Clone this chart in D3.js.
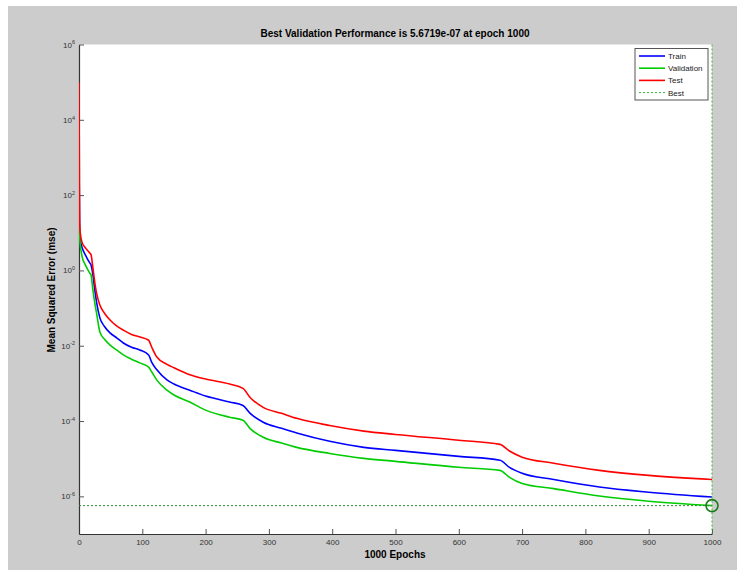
<!DOCTYPE html>
<head>
  <meta charset="utf-8">
  <script src="https://d3js.org/d3.v7.min.js"></script>
  <style>
    body { margin:0; background:#fff; }
    text { font-family: Arial, "Liberation Sans", sans-serif; }
  </style>
</head>
<body>
<script>
// values (mse per epoch)
var epochs   = [0, 1, 2, 5, 10, 17, 19, 22, 25, 28, 33, 40, 49, 60, 70, 83, 96, 110, 115, 123, 139, 150, 175, 200, 238, 259, 270, 291, 320, 344, 396, 450, 500, 600, 665, 680, 700, 750, 822, 900, 1000];
var trainMse = [1e3, 10, 6.5, 4.0, 2.6, 1.58, 1.4, 0.76, 0.30, 0.136, 0.055, 0.033, 0.022, 0.016, 0.0118, 0.0091, 0.0077, 0.0057, 0.0036, 0.0023, 0.00124, 0.00096, 0.00066, 0.00046, 0.00032, 0.00026, 0.000162, 9.3e-5, 6.4e-5, 4.8e-5, 2.9e-5, 2.0e-5, 1.66e-5, 1.15e-5, 9.1e-6, 5.9e-6, 4.1e-6, 2.8e-6, 1.77e-6, 1.29e-6, 9.6e-7];
var validMse = [30, 8, 4.8, 2.3, 1.4, 0.85, 0.76, 0.30, 0.136, 0.069, 0.023, 0.015, 0.0104, 0.0076, 0.0057, 0.0044, 0.0035, 0.0027, 0.0020, 0.00122, 0.00066, 0.00049, 0.00032, 0.000195, 0.000126, 0.000105, 6.4e-5, 3.7e-5, 2.6e-5, 2.0e-5, 1.38e-5, 1.02e-5, 8.5e-6, 5.9e-6, 4.9e-6, 3.2e-6, 2.2e-6, 1.6e-6, 1.02e-6, 7.4e-7, 5.6719e-7];
var testMse  = [1e5, 20, 10, 5.4, 4.0, 2.9, 2.6, 1.16, 0.47, 0.237, 0.12, 0.074, 0.048, 0.033, 0.026, 0.020, 0.017, 0.014, 0.0091, 0.005, 0.0032, 0.0026, 0.0017, 0.0013, 0.00096, 0.00074, 0.00043, 0.00023, 1.6e-4, 1.18e-4, 7.6e-5, 5.4e-5, 4.4e-5, 3.1e-5, 2.4e-5, 1.6e-5, 1.1e-5, 7.6e-6, 4.9e-6, 3.6e-6, 2.8e-6];
var bestEpoch  = 1000;
var bestValue  = 5.6719e-7;
var xTicks     = [0, 100, 200, 300, 400, 500, 600, 700, 800, 900, 1000];
var yTickExps  = [6, 4, 2, 0, -2, -4, -6];
var legendNames = ["Train", "Validation", "Test", "Best"];

var width = 743, height = 576;
var plot = {left: 79, right: 712, top: 44.5, bottom: 534};

var svg = d3.select("body").append("svg")
  .attr("width", width).attr("height", height);

svg.append("rect").attr("x", 8).attr("y", 6)
  .attr("width", 729).attr("height", 564).attr("fill", "#cccccc");

svg.append("rect").attr("x", plot.left).attr("y", plot.top)
  .attr("width", plot.right - plot.left).attr("height", plot.bottom - plot.top)
  .attr("fill", "#fff");

var x = d3.scaleLinear().domain([0, 1000]).range([plot.left, plot.right]);
var y = d3.scaleLog().domain([1e-7, 1e6]).range([plot.bottom, plot.top]);

svg.append("clipPath").attr("id", "clip").append("rect")
  .attr("x", plot.left).attr("y", plot.top)
  .attr("width", plot.right - plot.left).attr("height", plot.bottom - plot.top);

// axes, ticks pointing into the plot like matlab
var xAxis = d3.axisBottom(x).tickValues(xTicks).tickSizeInner(-5).tickSizeOuter(0).tickPadding(5)
  .tickFormat(d3.format("d"));
var yAxis = d3.axisLeft(y).tickValues(yTickExps.map(function(e){ return Math.pow(10, e); }))
  .tickSizeInner(-5).tickSizeOuter(0).tickPadding(4);

var xG = svg.append("g").attr("transform", "translate(0," + plot.bottom + ")").call(xAxis);
var yG = svg.append("g").attr("transform", "translate(" + plot.left + ",0)").call(yAxis);

[xG, yG].forEach(function(g){
  g.select(".domain").attr("stroke", "#333").attr("stroke-width", 1.2);
  g.selectAll(".tick line").attr("stroke", "#555");
  g.selectAll(".tick text").attr("fill", "#333").style("font-size", "8px");
});

yG.selectAll(".tick text").each(function(d){
  var t = d3.select(this).text("");
  t.append("tspan").text("10");
  t.append("tspan").attr("dy", "-0.6em").style("font-size", "5.5px")
    .text(Math.round(Math.log10(d)));
});

// lines
var line = d3.line()
  .x(function(d){ return x(d[0]); })
  .y(function(d){ return y(d[1]); })
  .curve(d3.curveMonotoneX);

var series = [
  {name: "Train", vals: trainMse, color: "#0000ff"},
  {name: "Validation", vals: validMse, color: "#00cc00"},
  {name: "Test", vals: testMse, color: "#ff0000"}
];

var lines = svg.append("g").attr("clip-path", "url(#clip)");
series.forEach(function(s){
  lines.append("path")
    .datum(epochs.map(function(e, i){ return [e, s.vals[i]]; }))
    .attr("d", line)
    .attr("fill", "none").attr("stroke", s.color).attr("stroke-width", 1.6);
});

// best markers
svg.append("line")
  .attr("x1", plot.left).attr("x2", x(bestEpoch))
  .attr("y1", y(bestValue)).attr("y2", y(bestValue))
  .attr("stroke", "#2e8b2e").attr("stroke-width", 1).attr("stroke-dasharray", "2,2");
svg.append("line")
  .attr("x1", x(bestEpoch)).attr("x2", x(bestEpoch))
  .attr("y1", plot.top).attr("y2", plot.bottom)
  .attr("stroke", "#33bb33").attr("stroke-width", 1).attr("stroke-dasharray", "2,2");
svg.append("circle")
  .attr("cx", x(bestEpoch)).attr("cy", y(bestValue)).attr("r", 6)
  .attr("fill", "none").attr("stroke", "#1f7a1f").attr("stroke-width", 1.6);

// titles
svg.append("text").attr("x", 395).attr("y", 37).attr("text-anchor", "middle")
  .style("font-size", "10px").style("font-weight", "bold")
  .text("Best Validation Performance is 5.6719e-07 at epoch 1000");
svg.append("text").attr("x", 395).attr("y", 558).attr("text-anchor", "middle")
  .style("font-size", "10px").style("font-weight", "bold")
  .text("1000 Epochs");
svg.append("text").attr("transform", "translate(55,290) rotate(-90)")
  .attr("text-anchor", "middle")
  .style("font-size", "10px").style("font-weight", "bold")
  .text("Mean Squared Error  (mse)");

// legend
var lg = svg.append("g");
lg.append("rect").attr("x", 635).attr("y", 48.5).attr("width", 73).attr("height", 51.5)
  .attr("fill", "#fff").attr("stroke", "#555").attr("stroke-width", 1);
var legendColors = ["#0000ff", "#00cc00", "#ff0000", "#33bb33"];
legendNames.forEach(function(n, i){
  var ly = 56 + i * 12.2;
  lg.append("line").attr("x1", 639).attr("x2", 665).attr("y1", ly).attr("y2", ly)
    .attr("stroke", legendColors[i]).attr("stroke-width", n === "Best" ? 1 : 1.6)
    .attr("stroke-dasharray", n === "Best" ? "2,2" : null);
  lg.append("text").attr("x", 668).attr("y", ly + 3).style("font-size", "8px")
    .attr("fill", "#222").text(n);
});
</script>
</body>
